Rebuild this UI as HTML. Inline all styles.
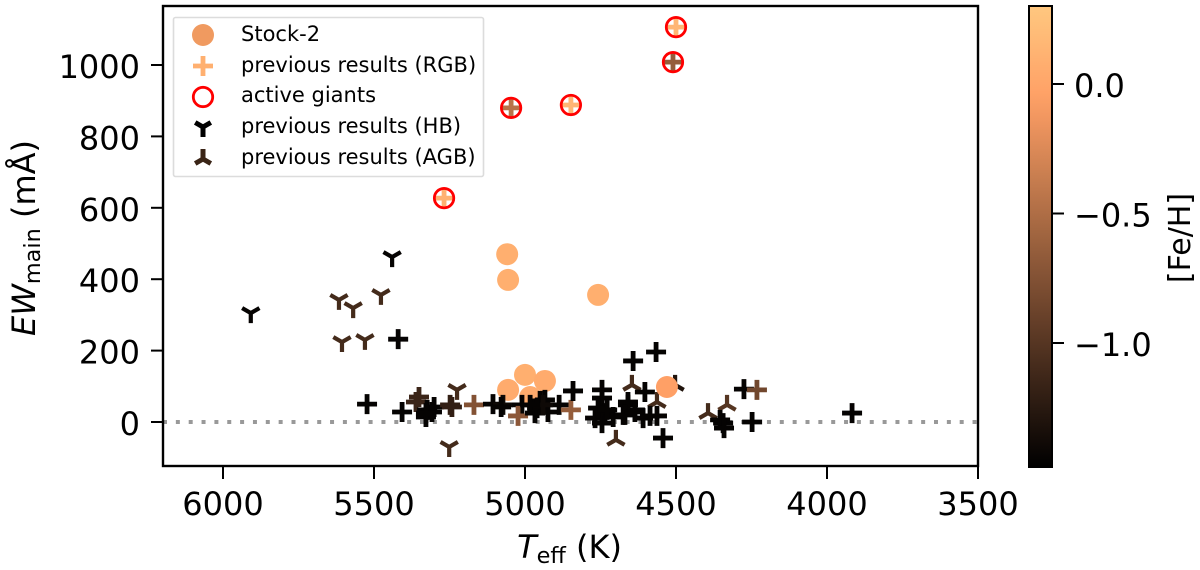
<!DOCTYPE html>
<html>
<head>
<meta charset="utf-8">
<style>
html,body{margin:0;padding:0;background:#fff;}
svg{display:block;font-family:"DejaVu Sans","Liberation Sans",sans-serif;filter:blur(0.35px);}
</style>
</head>
<body>
<svg id="chart" xmlns="http://www.w3.org/2000/svg" width="1200" height="570" viewBox="0 0 1200 570">
<defs>
<linearGradient id="copper-gradient" x1="0" y1="1" x2="0" y2="0"></linearGradient>
</defs>
<rect x="163" y="6" width="815" height="460" fill="#fff"/>
<line id="zero" stroke="#999" stroke-width="4" stroke-dasharray="4 8.85"/>
<g id="marks"></g>
<rect x="163" y="6" width="815" height="460" fill="none" stroke="#000" stroke-width="2.4"/>
<g id="xticks"></g>
<g id="yticks"></g>
<text x="569.500" y="558" font-size="32" text-anchor="middle"><tspan font-style="italic">T</tspan><tspan font-size="22.400" dy="5">eff</tspan><tspan dy="-5"> (K)</tspan></text>
<text transform="translate(35,238) rotate(-90)" font-size="32" text-anchor="middle"><tspan font-style="italic">EW</tspan><tspan font-size="22.400" dy="5">main</tspan><tspan dy="-5"> (mÅ)</tspan></text>

<g>
<rect x="173.500" y="17.500" width="310" height="159" fill="#fff" stroke="#dcdcdc" stroke-width="1.6" rx="2"/>
<circle cx="203" cy="35" r="11" fill="#f09a60"/>
<text x="241" y="41" font-size="21">Stock-2</text>
<path d="M193 66H213M203 56V76" stroke="#ffb070" stroke-width="4.800" fill="none"/>
<text x="241" y="72" font-size="21">previous results (RGB)</text>
<circle cx="203" cy="97" r="9.700" fill="none" stroke="#f00" stroke-width="2.800"/>
<text x="241" y="102" font-size="21">active giants</text>
<path d="M203 127V137M203 127L195.200 122.500M203 127L210.800 122.500" stroke="#000" stroke-width="5" fill="none"/>
<text x="241" y="133" font-size="21">previous results (HB)</text>
<path d="M203 159V149M203 159L195.200 163.500M203 159L210.800 163.500" stroke="#3a2416" stroke-width="5" fill="none"/>
<text x="241" y="164" font-size="21">previous results (AGB)</text>
</g>

<rect x="1029" y="6" width="23" height="461" fill="url(#copper-gradient)" stroke="#000" stroke-width="2"/>
<g id="cticks"></g>
<text transform="translate(1190,238) rotate(-90)" font-size="30" text-anchor="middle">[Fe/H]</text>
</svg>

<script>
var NS = 'http://www.w3.org/2000/svg';

var xTickValues = [6000, 5500, 5000, 4500, 4000, 3500];
var yTickValues = [0, 200, 400, 600, 800, 1000];
var cTickValues = [0, -0.5, -1];
var cTickLabels = ['0.0', '\u22120.5', '\u22121.0'];

var stockTeff = [5059, 5056, 4758, 5000, 4934, 5056, 4983, 4530];
var stockEw = [470, 398, 356, 132, 115, 90, 70, 98];
var stockFeh = [0.08, 0.08, 0.08, 0.08, 0.05, 0.05, 0.05, -0.05];

var rgbTeff = [5420, 5523, 5407, 5351, 5361, 5328, 5301, 5324, 5308, 5328, 5242, 5248, 5169, 5106, 5073, 5079, 5010, 5023, 4967, 4950, 4934, 4960, 4924, 4887, 4940, 4983, 4848, 4841, 4745, 4745, 4768, 4745, 4735, 4758, 4708, 4675, 4642, 4659, 4636, 4566, 4543, 4659, 4669, 4603, 4609, 4563, 4586, 4636, 4728, 4275, 4232, 4248, 4344, 4354, 4341, 3917, 5268, 5046, 4848, 4500, 4510];
var rgbEw = [232, 50, 28, 70, 56, 14, 42, 34, 28, 25, 42, 48, 48, 50, 48, 42, 48, 17, 25, 59, 62, 39, 28, 48, 48, 48, 34, 87, 90, 67, 11, -3, 25, 39, 14, 20, 171, 48, 34, 196, -45, 56, 20, 84, 11, 17, 17, 28, 34, 92, 90, 0, -3, 6, -17, 25, 627, 880, 888, 1106, 1008];
var rgbFeh = [-1.45, -1.45, -1.45, -1.15, -1.15, -1.45, -1.45, -1.45, -1.45, -1.45, -1.2, -1.2, -0.75, -1.45, -1.4, -1.45, -1.45, -0.7, -1.45, -1.45, -1.45, -1.45, -1.45, -1.45, -1.4, -1.45, -0.65, -1.45, -1.45, -1.45, -1.45, -1.45, -1.45, -1.45, -1.45, -1.45, -1.45, -1.45, -1.45, -1.45, -1.45, -1.45, -1.45, -1.45, -1.45, -1.45, -1.45, -1.45, -1.45, -1.45, -0.85, -1.45, -1.45, -1.45, -1.45, -1.45, 0.1, -0.45, 0.15, 0.15, -0.65];

var activeTeff = [5268, 5046, 4848, 4500, 4510];
var activeEw = [627, 880, 888, 1106, 1008];

var hbTeff = [5908, 5440, 5616, 5569, 5477, 5606, 5530, 5225, 5251];
var hbEw = [305, 462, 342, 319, 356, 224, 230, 90, -70];
var hbFeh = [-1.45, -1.45, -1.1, -1.1, -1.1, -1.1, -1.1, -1.1, -1.1];

var agbTeff = [4699, 4646, 4563, 4503, 4394, 4331];
var agbEw = [-50, 104, 56, 104, 25, 48];
var agbFeh = [-1.1, -1.1, -1.1, -1.3, -1.1, -1.0];

function xScale(t) { return 978 - (t - 3500) * 0.302; }
function yScale(v) { return 422 - v * 0.357; }
function cScale(f) { return 84 - f * 259; }
function copper(f) {
  var n = (f + 1.48) / 1.78;
  n = Math.max(0, Math.min(1, n));
  var r = Math.min(255, Math.round(n * 1.25 * 255));
  var g = Math.round(n * 0.7812 * 255);
  var b = Math.round(n * 0.4975 * 255);
  return 'rgb(' + r + ',' + g + ',' + b + ')';
}

var marks = document.getElementById('marks');
var zero = document.getElementById('zero');
zero.setAttribute('x1', 163);
zero.setAttribute('x2', 978);
zero.setAttribute('y1', yScale(0));
zero.setAttribute('y2', yScale(0));

var grad = document.getElementById('copper-gradient');
for (var s = 0; s <= 16; s++) {
  var stop = document.createElementNS(NS, 'stop');
  stop.setAttribute('offset', s / 16);
  stop.setAttribute('stop-color', copper(-1.48 + 1.78 * s / 16));
  grad.appendChild(stop);
}

function triPath(x, y, dir) {
  var r = 10;
  return 'M' + x + ' ' + y + 'L' + x + ' ' + (y + dir * r) +
    'M' + x + ' ' + y + 'L' + (x - 0.866 * r) + ' ' + (y - dir * 0.5 * r) +
    'M' + x + ' ' + y + 'L' + (x + 0.866 * r) + ' ' + (y - dir * 0.5 * r);
}

hbTeff.forEach(function (t, i) {
  var el = document.createElementNS(NS, 'path');
  
  
  el.setAttribute('d', triPath(xScale(t), yScale(hbEw[i]), 1));
  el.setAttribute('stroke', copper(hbFeh[i]));
  el.setAttribute('stroke-width', '4.2');
  el.setAttribute('fill', 'none');
  marks.appendChild(el);
});

agbTeff.forEach(function (t, i) {
  var el = document.createElementNS(NS, 'path');
  
  
  el.setAttribute('d', triPath(xScale(t), yScale(agbEw[i]), -1));
  el.setAttribute('stroke', copper(agbFeh[i]));
  el.setAttribute('stroke-width', '4.2');
  el.setAttribute('fill', 'none');
  marks.appendChild(el);
});

stockTeff.forEach(function (t, i) {
  var el = document.createElementNS(NS, 'circle');
  
  
  el.setAttribute('cx', xScale(t));
  el.setAttribute('cy', yScale(stockEw[i]));
  el.setAttribute('r', '11');
  el.setAttribute('fill', copper(stockFeh[i]));
  marks.appendChild(el);
});

rgbTeff.forEach(function (t, i) {
  var x = xScale(t);
  var y = yScale(rgbEw[i]);
  var el = document.createElementNS(NS, 'path');
  
  
  el.setAttribute('d', 'M' + (x - 10) + ' ' + y + 'H' + (x + 10) + 'M' + x + ' ' + (y - 10) + 'V' + (y + 10));
  el.setAttribute('stroke', copper(rgbFeh[i]));
  el.setAttribute('stroke-width', '4.8');
  el.setAttribute('fill', 'none');
  marks.appendChild(el);
});

activeTeff.forEach(function (t, i) {
  var el = document.createElementNS(NS, 'circle');
  
  
  el.setAttribute('cx', xScale(t));
  el.setAttribute('cy', yScale(activeEw[i]));
  el.setAttribute('r', '9.7');
  el.setAttribute('fill', 'none');
  el.setAttribute('stroke', '#f00');
  el.setAttribute('stroke-width', '2.8');
  marks.appendChild(el);
});

var xticks = document.getElementById('xticks');
xTickValues.forEach(function (v) {
  var x = xScale(v);
  var el = document.createElementNS(NS, 'line');
  
  
  el.setAttribute('x1', x);
  el.setAttribute('x2', x);
  el.setAttribute('y1', 466);
  el.setAttribute('y2', 479);
  el.setAttribute('stroke', '#000');
  el.setAttribute('stroke-width', '2');
  xticks.appendChild(el);
  var lb = document.createElementNS(NS, 'text');
  
  
  lb.setAttribute('x', x);
  lb.setAttribute('y', 515);
  lb.setAttribute('font-size', '32');
  lb.setAttribute('text-anchor', 'middle');
  lb.textContent = String(v);
  xticks.appendChild(lb);
});

var yticks = document.getElementById('yticks');
yTickValues.forEach(function (v) {
  var y = yScale(v);
  var el = document.createElementNS(NS, 'line');
  
  
  el.setAttribute('x1', 151);
  el.setAttribute('x2', 163);
  el.setAttribute('y1', y);
  el.setAttribute('y2', y);
  el.setAttribute('stroke', '#000');
  el.setAttribute('stroke-width', '2');
  yticks.appendChild(el);
  var lb = document.createElementNS(NS, 'text');
  
  
  lb.setAttribute('x', 140);
  lb.setAttribute('y', y + 13);
  lb.setAttribute('font-size', '32');
  lb.setAttribute('text-anchor', 'end');
  lb.textContent = String(v);
  yticks.appendChild(lb);
});

var cticks = document.getElementById('cticks');
cTickValues.forEach(function (v, i) {
  var y = cScale(v);
  var el = document.createElementNS(NS, 'line');
  
  
  el.setAttribute('x1', 1052);
  el.setAttribute('x2', 1064);
  el.setAttribute('y1', y);
  el.setAttribute('y2', y);
  el.setAttribute('stroke', '#000');
  el.setAttribute('stroke-width', '2');
  cticks.appendChild(el);
  var lb = document.createElementNS(NS, 'text');
  
  
  lb.setAttribute('x', 1074);
  lb.setAttribute('y', y + 13);
  lb.setAttribute('font-size', '32');
  lb.textContent = cTickLabels[i];
  cticks.appendChild(lb);
});
</script>
</body>
</html>
